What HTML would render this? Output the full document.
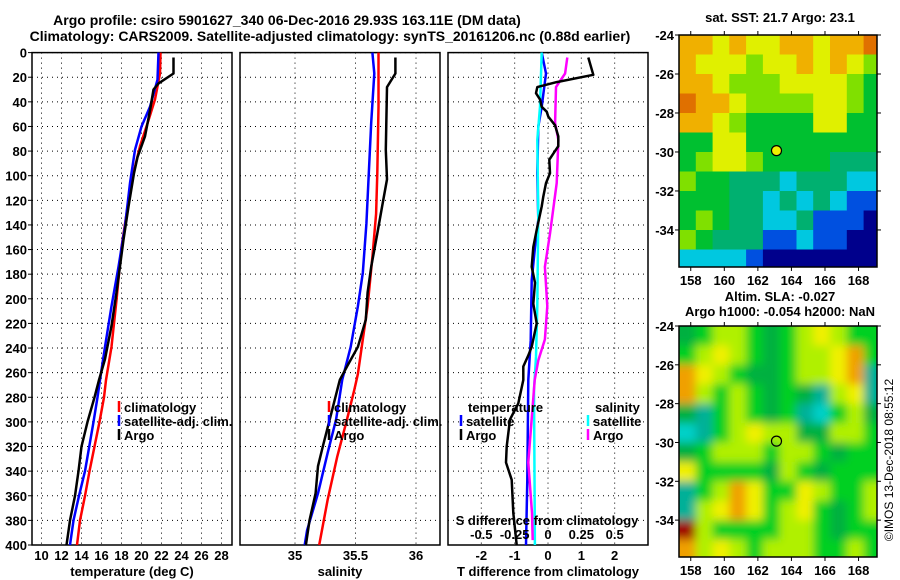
<!DOCTYPE html>
<html><head><meta charset="utf-8">
<style>
html,body{margin:0;padding:0;background:#fff;}
svg{display:block;font-family:"Liberation Sans",sans-serif;font-weight:bold;}
</style></head><body>
<svg id="c" width="900" height="580" viewBox="0 0 900 580" xmlns="http://www.w3.org/2000/svg">
<defs>
<filter id="blur" x="0" y="0" width="1" height="1"><feGaussianBlur stdDeviation="4.5"/></filter>
<clipPath id="clipTop"><rect x="679" y="35" width="198" height="232"/></clipPath>
<clipPath id="clipBot"><rect x="679" y="326" width="198" height="231"/></clipPath>
</defs>
<text x="287" y="25" text-anchor="middle" font-size="14">Argo profile: csiro 5901627_340 06-Dec-2016 29.93S 163.11E (DM data)</text>
<text x="330" y="41" text-anchor="middle" font-size="14">Climatology: CARS2009. Satellite-adjusted climatology: synTS_20161206.nc (0.88d earlier)</text>
<g id="g"></g>
<text x="780" y="22" text-anchor="middle" font-size="13">sat. SST: 21.7 Argo: 23.1</text>
<text x="780" y="301" text-anchor="middle" font-size="13">Altim. SLA: -0.027</text>
<text x="780" y="316" text-anchor="middle" font-size="13">Argo h1000: -0.054 h2000: NaN</text>
<text transform="translate(893,460) rotate(-90)" text-anchor="middle" font-size="12" font-weight="normal">©IMOS 13-Dec-2018 08:55:12</text>
</svg>
<script>
// ---- profile data (depth in dbar) ----
const tClimDepth=[0,17,38,55,76,98,131,158,201,239,266,280,300,340,360,380,400];
const tClimVal=[21.9,21.85,21.35,20.7,19.85,19.2,18.5,18.0,17.5,17.0,16.45,16.25,15.8,14.8,14.35,13.85,13.55];
const tSatDepth=[0,22,44,60,79,106,141,174,206,239,266,280,300,340,360,380,400];
const tSatVal=[21.7,21.6,20.85,20.0,19.35,18.85,18.35,17.7,17.0,16.35,15.85,15.6,15.2,14.35,13.75,13.2,12.85];
const tArgoDepth=[4,17,25,30,47,68,85,98,125,152,195,222,249,266,280,300,320,340,360,380,400];
const tArgoVal=[23.2,23.2,21.7,21.2,20.85,20.35,19.6,19.25,18.7,18.2,17.5,17.0,16.35,15.75,15.3,14.6,14.0,13.7,13.35,12.85,12.5];
const sClimDepth=[0,44,98,131,166,206,233,261,274,298,328,363,400];
const sClimVal=[35.69,35.69,35.68,35.67,35.64,35.6,35.56,35.52,35.49,35.43,35.35,35.27,35.2];
const sSatDepth=[0,17,57,98,139,179,206,239,266,298,325,358,388,400];
const sSatVal=[35.64,35.655,35.63,35.61,35.59,35.56,35.52,35.46,35.39,35.34,35.27,35.19,35.1,35.08];
const sArgoDepth=[4,17,28,79,103,125,147,174,195,217,239,255,266,293,320,336,358,380,400];
const sArgoVal=[35.83,35.83,35.76,35.75,35.76,35.72,35.68,35.63,35.6,35.585,35.52,35.43,35.37,35.3,35.23,35.19,35.17,35.12,35.09];
const dTArgoDepth=[4,18,24,28,33,38,44,48,52,59,68,76,80,87,98,106,117,125,144,158,174,187,204,220,239,246,255,266,285,298,320,333,347,374,400];
const dTArgoVal=[1.21,1.36,0.26,-0.32,-0.36,-0.24,-0.19,-0.04,0.01,0.21,0.31,0.31,0.21,0.04,0.06,-0.06,-0.14,-0.19,-0.34,-0.44,-0.49,-0.39,-0.44,-0.34,-0.49,-0.59,-0.74,-0.74,-0.89,-1.14,-1.24,-1.26,-1.09,-1.04,-0.94];
const dTSatDepth=[0,17,44,60,98,136,158,185,234,266,347,400];
const dTSatVal=[-0.19,-0.06,-0.19,-0.29,-0.32,-0.29,-0.39,-0.49,-0.52,-0.59,-0.62,-0.66];
const dSSatDepth=[0,44,71,131,206,247,274,400];
const dSSatVal=[-0.047,-0.06,-0.08,-0.073,-0.08,-0.09,-0.105,-0.098];
const dSArgoDepth=[4,17,28,57,71,106,147,174,206,233,250,266,333,374,396];
const dSArgoVal=[0.145,0.128,0.06,0.053,0.078,0.065,0.015,-0.023,-0.005,-0.023,-0.073,-0.1,-0.148,-0.12,-0.115];
const depthTicks=[0,20,40,60,80,100,120,140,160,180,200,220,240,260,280,300,320,340,360,380,400];
const tTicks=[10,12,14,16,18,20,22,24,26,28];
const sTicks=[35,35.5,36];
const sTickLabels=["35","35.5","36"];
const dTTicks=[-2,-1,0,1,2];
const dTTickLabels=["-2","-1","0","1","2"];
const dSTicks=[-0.5,-0.25,0,0.25,0.5];
const dSTickLabels=["-0.5","-0.25","0","0.25","0.5"];
// ---- map data: rows lat -24..-35, cols lon 157.3.. by 1 deg ----
const sstGrid=[
[7,7,6,7,6,6,7,7,6,7,7,8],
[7,6,6,6,5,6,6,7,6,7,6,5],
[7,7,6,5,5,5,6,6,6,6,5,4],
[8,7,7,6,5,5,5,5,6,6,5,4],
[7,7,6,5,4,4,4,4,6,6,4,4],
[4,4,6,6,4,4,4,4,4,4,4,4],
[4,5,6,6,5,4,4,4,4,3,3,3],
[5,4,4,3,3,3,2,3,3,3,2,2],
[4,4,4,3,3,2,3,2,3,2,1,1],
[4,5,4,3,3,2,2,3,1,1,1,0],
[5,4,3,3,3,1,1,2,1,1,0,0],
[2,2,2,2,1,0,0,0,0,0,0,0]];
const slaGrid=[
[2,3,4,4,3,2,3,4,5,4,3,3],
[3,4,5,4,3,2,3,4,4,5,6,3],
[6,5,4,3,2,2,3,4,4,5,6,1],
[6,4,3,4,3,2,3,2,1,4,5,1],
[2,1,3,4,3,2,3,1,0,3,4,2],
[0,1,3,4,5,4,4,2,2,4,4,3],
[2,3,4,4,4,3,4,4,3,2,3,3],
[5,3,3,3,3,2,4,3,2,3,3,3],
[1,3,4,6,5,3,3,5,4,3,3,4],
[1,4,5,6,5,3,4,5,3,2,3,4],
[7,4,3,3,3,3,4,4,3,2,3,3],
[6,4,5,4,3,4,4,4,3,3,4,3]];
const lonTicks=[158,160,162,164,166,168];
const latTicks=[-24,-26,-28,-30,-32,-34];
const argoLon=163.11, argoLat=-29.93;

const sstColors=["#00008c","#0050e0","#00c8e0","#00b070","#00c030","#80e000","#e0f000","#f0b000","#e07000"];
const slaColors=["#00d0c8","#00b098","#00b040","#00d020","#b0f000","#f0f000","#f0a000","#a00000"];

const NS="http://www.w3.org/2000/svg";
const G=document.getElementById('g');
function mk(t,a,p){const e=document.createElementNS(NS,t);for(const k in a)e.setAttribute(k,a[k]);(p||G).appendChild(e);return e;}
const Y0=52.6,Y1=545;
const yD=d=>Y0+(Y1-Y0)*d/400;

function panel(name,x0,x1,xmin,xmax,vticks,tlabels,labelY,xlabel,showY){
  const xs=v=>x0+(x1-x0)*(v-xmin)/(xmax-xmin);
  const g=mk('g',{});
  
  
  depthTicks.forEach(d=>{
    const l=mk('line',{x1:x0,x2:x1,y1:yD(d),y2:yD(d),stroke:'#000','stroke-width':1,'stroke-dasharray':'1,4'},g);
    
    
    if(showY){
      const t=mk('text',{x:27,y:yD(d)+5,'text-anchor':'end','font-size':13},g);
      t.textContent=d;
      
      
      mk('line',{x1:28,x2:x0,y1:yD(d),y2:yD(d),stroke:'#000'},g);
    }
  });
  vticks.forEach((v,i)=>{
    const l=mk('line',{x1:xs(v),x2:xs(v),y1:Y0,y2:Y1,stroke:'#000','stroke-width':1,'stroke-dasharray':'1,4'},g);
    
    
    if(tlabels){
      const t=mk('text',{x:xs(v),y:labelY,'text-anchor':'middle','font-size':13},g);
      t.textContent=tlabels[i];
      
      
    }
  });
  const r=mk('rect',{x:x0,y:Y0,width:x1-x0,height:Y1-Y0,fill:'none',stroke:'#000','stroke-width':1.5},g);
  
  
  const t=mk('text',{x:(x0+x1)/2,y:576,'text-anchor':'middle','font-size':13},g);
  t.textContent=xlabel;
  
  
  return {xs,g};
}
function line(p,depths,vals,color,w,name){
  const pts=depths.map((d,i)=>p.xs(vals[i]).toFixed(1)+','+yD(d).toFixed(1)).join(' ');
  const l=mk('polyline',{points:pts,fill:'none',stroke:color,'stroke-width':w,'stroke-linejoin':'round'},p.g);
  
  
}
function legend(p,x,y,color,label,name){
  const g=mk('g',{},p.g);
  
  
  if(color) mk('line',{x1:x,x2:x,y1:y-11,y2:y,stroke:color,'stroke-width':2.5},g);
  const t=mk('text',{x:x+5,y:y,'font-size':13},g);
  t.textContent=label;
}

// Panel 1 temperature
const p1=panel('temperature-panel',32,232,9.05,29.05,tTicks,tTicks.map(String),560,'temperature (deg C)',true);
line(p1,tClimDepth,tClimVal,'#ff0000',2.5,'t-climatology-line');
line(p1,tSatDepth,tSatVal,'#0000ff',2.5,'t-satellite-line');
line(p1,tArgoDepth,tArgoVal,'#000000',2.5,'t-argo-line');
legend(p1,119,412,'#ff0000','climatology','legend-climatology');
legend(p1,119,426,'#0000ff','satellite-adj. clim.','legend-satellite-adj');
legend(p1,119,440,'#000000','Argo','legend-argo');

// Panel 2 salinity
const p2=panel('salinity-panel',240,440,34.5455,36.1983,sTicks,sTickLabels,560,'salinity',false);
line(p2,sClimDepth,sClimVal,'#ff0000',2.5,'s-climatology-line');
line(p2,sSatDepth,sSatVal,'#0000ff',2.5,'s-satellite-line');
line(p2,sArgoDepth,sArgoVal,'#000000',2.5,'s-argo-line');
legend(p2,329,412,'#ff0000','climatology','legend-climatology');
legend(p2,329,426,'#0000ff','satellite-adj. clim.','legend-satellite-adj');
legend(p2,329,440,'#000000','Argo','legend-argo');

// Panel 3 differences
const p3=panel('difference-panel',448,648,-3.0,3.0,dTTicks,dTTickLabels,560,'T difference from climatology',false);
const p3s={xs:v=>448+200*(v+0.75)/1.5,g:p3.g};
line(p3,dTSatDepth,dTSatVal,'#0000ff',2.5,'dt-satellite-line');
line(p3s,dSSatDepth,dSSatVal,'#00ffff',2.5,'ds-satellite-line');
line(p3s,dSArgoDepth,dSArgoVal,'#ff00ff',2.5,'ds-argo-line');
line(p3,dTArgoDepth,dTArgoVal,'#000000',2.5,'dt-argo-line');
dSTicks.forEach((v,i)=>{
  const t=mk('text',{x:p3s.xs(v),y:539,'text-anchor':'middle','font-size':13},p3.g);
  t.textContent=dSTickLabels[i];
  
  
});
{const t=mk('text',{x:547,y:525,'text-anchor':'middle','font-size':13},p3.g);t.textContent='S difference from climatology';

}
legend(p3,463,412,null,'temperature','legend-temperature-header');
legend(p3,461,426,'#0000ff','satellite','legend-t-satellite');
legend(p3,461,440,'#000000','Argo','legend-t-argo');
legend(p3,590,412,null,'salinity','legend-salinity-header');
legend(p3,588,426,'#00ffff','satellite','legend-s-satellite');
legend(p3,588,440,'#ff00ff','Argo','legend-s-argo');

// Maps
function map(name,top,bot,grid,colors,clip,blur,filled,labY){
  const L=679,R=877,lonMin=157.3,lonMax=169.1,latTop=-24,latBot=-35.9;
  const xl=v=>L+(R-L)*(v-lonMin)/(lonMax-lonMin);
  const yl=v=>top+(bot-top)*(v-latTop)/(latBot-latTop);
  const g=mk('g',{});
  
  
  const cg=mk('g',{'clip-path':'url(#'+clip+')'},g);
  const ig=mk('g',blur?{filter:'url(#blur)'}:{},cg);
  const bw=blur?20:0;
  grid.forEach((row,r)=>row.forEach((v,c)=>{
    let x=xl(lonMin+c), y=yl(latTop-r), w=xl(lonMin+c+1)-x, h=yl(latTop-r-1)-y;
    if(c==0){x-=bw;w+=bw;} if(c==row.length-1)w+=bw+20; if(r==0){y-=bw;h+=bw;} if(r==grid.length-1)h+=bw+20;
    const e=mk('rect',{x:x.toFixed(1),y:y.toFixed(1),width:(w+0.5).toFixed(1),height:(h+0.5).toFixed(1),fill:colors[v]},ig);
    
    
  }));
  mk('rect',{x:L,y:top,width:R-L,height:bot-top,fill:'none',stroke:'#000','stroke-width':1.5},g);
  lonTicks.forEach(v=>{
    mk('line',{x1:xl(v),x2:xl(v),y1:top-4,y2:top,stroke:'#000'},g);
    mk('line',{x1:xl(v),x2:xl(v),y1:bot,y2:bot+4,stroke:'#000'},g);
    const t=mk('text',{x:xl(v),y:labY,'text-anchor':'middle','font-size':13},g);
    t.textContent=v;
    
    
  });
  latTicks.forEach(v=>{
    mk('line',{x1:L-4,x2:L,y1:yl(v),y2:yl(v),stroke:'#000'},g);
    mk('line',{x1:R,x2:R+4,y1:yl(v),y2:yl(v),stroke:'#000'},g);
    const t=mk('text',{x:674,y:yl(v)+5,'text-anchor':'end','font-size':13},g);
    t.textContent=v;
    
    
  });
  const m=mk('circle',{cx:xl(argoLon),cy:yl(argoLat),r:5,fill:filled?'#f0f000':'none',stroke:'#000','stroke-width':1.2},g);
  
  
}
map('sst-map',35,267,sstGrid,sstColors,'clipTop',false,true,285);
map('sla-map',326,557,slaGrid,slaColors,'clipBot',true,false,575);
</script>
</body></html>
